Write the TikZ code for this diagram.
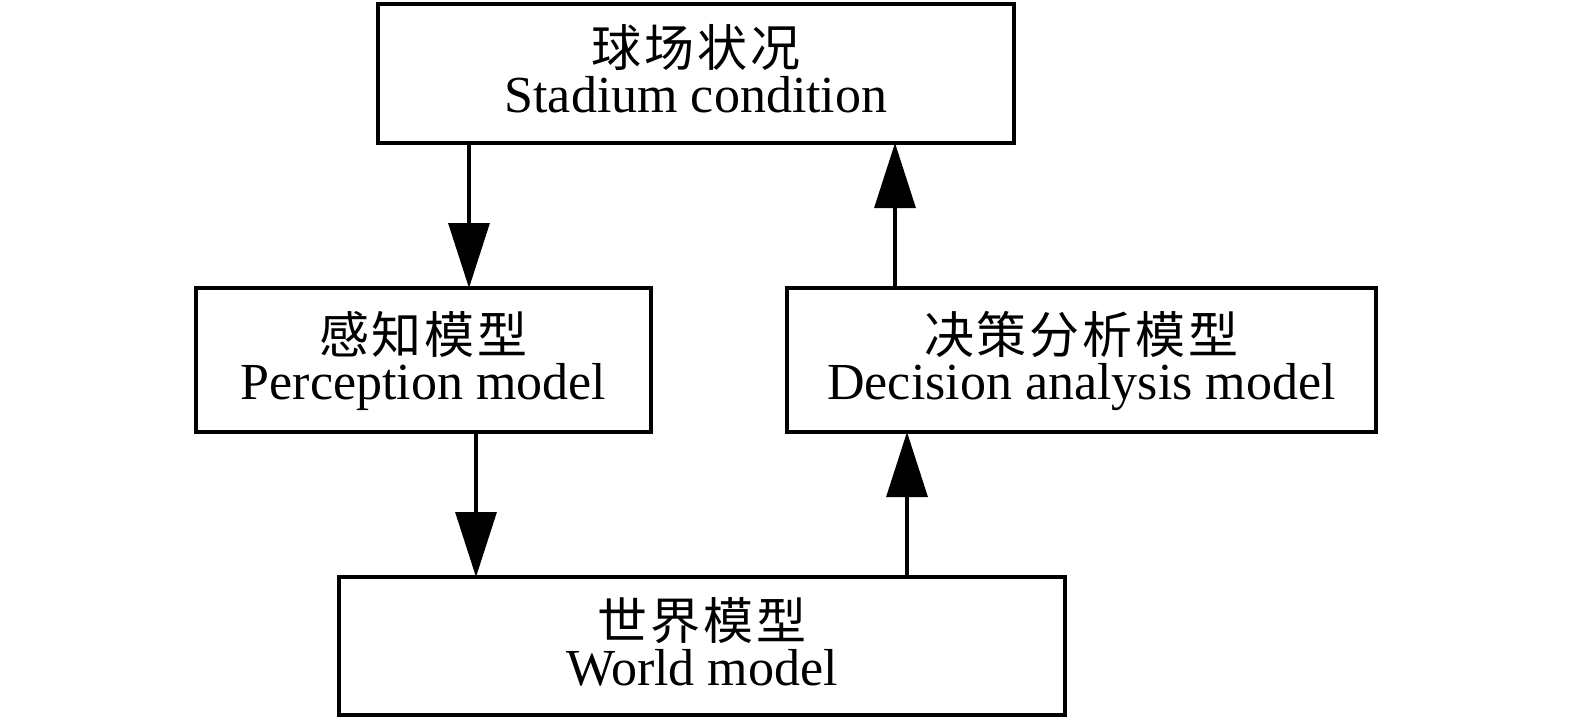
\documentclass[tikz,border=0pt]{standalone}
\usepackage{fontspec}
\setmainfont{Liberation Serif}
\newfontfamily\cjk[LetterSpace=6]{Noto Sans CJK SC}
\usetikzlibrary{arrows.meta}
\tikzset{
  box/.style={draw, line width=3.2pt, inner sep=0pt, outer sep=0pt, align=center,
    text depth=10pt, font=\fontsize{52}{52}\selectfont},
  arr/.style={line width=3.2pt, -{Triangle[length=65pt,width=41pt]}}
}
\newcommand{\cnline}[1]{{\cjk\fontsize{50}{50}\selectfont #1}}
\begin{document}
\begin{tikzpicture}[x=1pt,y=-1pt]
\useasboundingbox (0,0) rectangle (1575,721);
\node[box, minimum width=636pt, minimum height=139pt] (top) at (696,73.5)
  {\cnline{球场状况}\\[-6pt] Stadium condition};
\node[box, minimum width=455pt, minimum height=144pt] (perc) at (423.5,360)
  {\cnline{感知模型}\\[-6pt] Perception model};
\node[box, minimum width=589pt, minimum height=144pt] (dec) at (1081.5,360)
  {\cnline{决策分析模型}\\[-6pt] Decision analysis model};
\node[box, minimum width=726pt, minimum height=138pt] (world) at (702,646)
  {\cnline{世界模型}\\[-6pt] World model};
\coordinate (c1) at (469,0);
\coordinate (c2) at (476,0);
\coordinate (c3) at (907,0);
\coordinate (c4) at (895,0);
\draw[arr] (top.south -| c1) -- (perc.north -| c1);
\draw[arr] (perc.south -| c2) -- (world.north -| c2);
\draw[arr] (world.north -| c3) -- (dec.south -| c3);
\draw[arr] (dec.north -| c4) -- (top.south -| c4);
\end{tikzpicture}
\end{document}
